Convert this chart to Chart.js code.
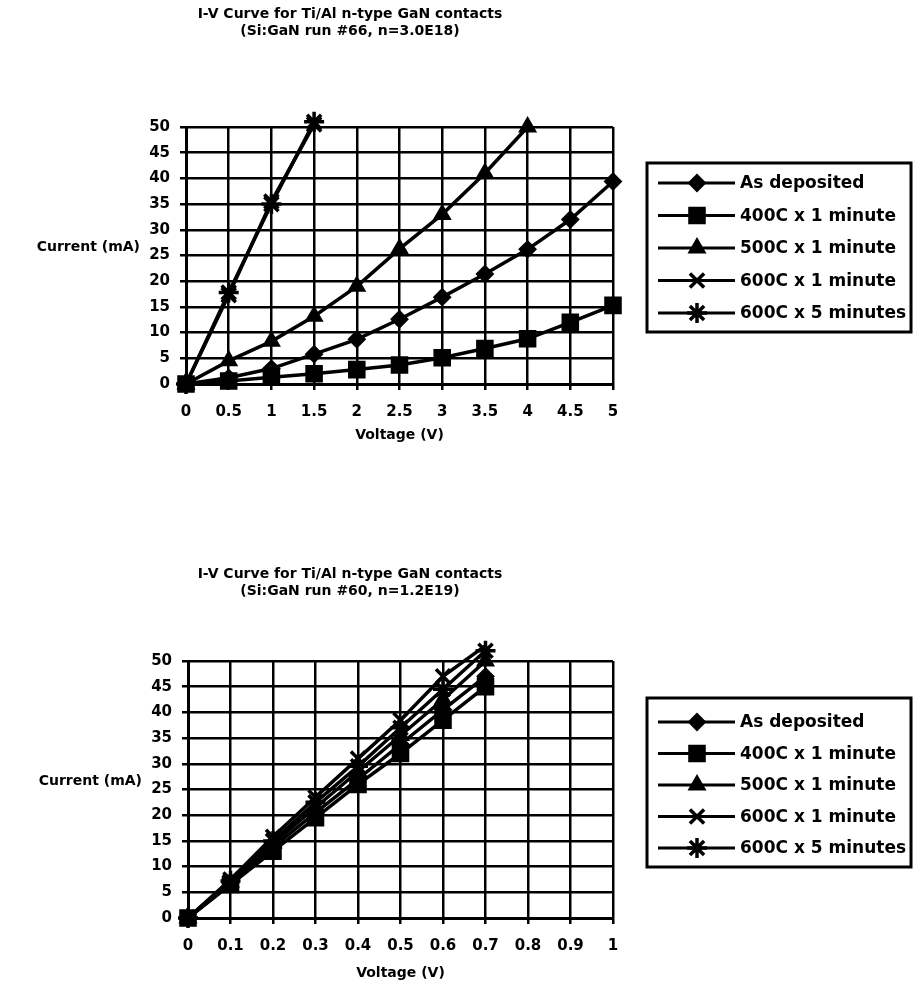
<!DOCTYPE html>
<html>
<head>
<meta charset="utf-8">
<title>I-V Curve for Ti/Al n-type GaN contacts</title>
<script src="https://cdn.jsdelivr.net/npm/chart.js@4.4.0/dist/chart.umd.min.js"></script>
<style>
  body { margin: 0; background: #fff; }
  #wrap { position: relative; width: 916px; height: 992px; }
  #chart-66 { position: absolute; left: 0; top: 0; }
  #chart-60 { position: absolute; left: 0; top: 496px; }
</style>
</head>
<body>
<div id="wrap">
  <canvas id="chart-66" width="916" height="470"></canvas>
  <canvas id="chart-60" width="916" height="496"></canvas>
</div>
<script>
// series names, same for both runs
var seriesNames = ['As deposited', '400C x 1 minute', '500C x 1 minute', '600C x 1 minute', '600C x 5 minutes'];

// run #66 (n=3.0E18) - voltage ticks and currents in mA
var voltsRun66 = ['0', '0.5', '1', '1.5', '2', '2.5', '3', '3.5', '4', '4.5', '5'];
var asDepRun66 = [0, 1.2, 3, 5.8, 8.7, 12.6, 16.9, 21.4, 26.2, 32, 39.4];
var a400Run66 = [0, 0.6, 1.3, 2, 2.8, 3.7, 5.1, 6.9, 8.8, 12, 15.3];
var a500Run66 = [0, 4.5, 8.3, 13.2, 19, 26.3, 33, 41, 50];
var a600Run66 = [0, 17.3, 35.5, 50.5];
var a600x5Run66 = [0, 17.8, 35, 51];

// run #60 (n=1.2E19)
var voltsRun60 = ['0', '0.1', '0.2', '0.3', '0.4', '0.5', '0.6', '0.7', '0.8', '0.9', '1'];
var asDepRun60 = [0, 6.8, 13.8, 20.5, 27, 33.8, 40.5, 47];
var a400Run60 = [0, 6.5, 13, 19.5, 26, 32, 38.5, 45];
var a500Run60 = [0, 7, 14.5, 21.5, 28.5, 35.5, 42.5, 50];
var a600Run60 = [0, 7.5, 15.8, 23.5, 31, 38.5, 47, 53];
var a600x5Run60 = [0, 7.2, 15, 22.5, 29.5, 37, 44.5, 52];

var currentTicks = { min: 0, max: 50, step: 5 };

// marker look per series
var markers = [
  { style: 'rectRot', radius: 8, border: 2 },
  { style: 'rect', radius: 11, border: 2 },
  { style: 'triangle', radius: 9, border: 2 },
  { style: 'crossRot', radius: 10, border: 3.5 },
  { style: 'star', radius: 10, border: 3.5 }
];

var FONT = '"DejaVu Sans", Verdana, sans-serif';
Chart.defaults.font.family = FONT;
Chart.defaults.font.size = 14;
Chart.defaults.font.weight = 'bold';
Chart.defaults.color = '#000';

// y title written flat on the left and an Excel style legend box on the right
var sidePieces = {
  id: 'sidePieces',
  afterDraw: function(chart, args, o) {
    var ctx = chart.ctx;
    var a = chart.chartArea;
    ctx.save();
    ctx.fillStyle = '#000';
    ctx.strokeStyle = '#000';
    ctx.font = 'bold 14px ' + FONT;
    ctx.textBaseline = 'middle';
    ctx.textAlign = 'right';
    ctx.fillText(o.yTitle, a.left - 46, a.top + 120);

    var bx = a.right + 34;
    var by = a.top + o.boxTop;
    ctx.lineWidth = 3;
    ctx.strokeRect(bx, by, 264, 169);
    ctx.textAlign = 'left';
    ctx.font = 'bold 17px ' + FONT;
    chart.data.datasets.forEach(function(ds, i) {
      var y = by + o.firstRow + i * o.rowGap;
      ctx.lineWidth = 3;
      ctx.beginPath();
      ctx.moveTo(bx + 11, y);
      ctx.lineTo(bx + 88, y);
      ctx.stroke();
      ctx.lineWidth = ds.pointBorderWidth;
      Chart.helpers.drawPoint(ctx, {
        pointStyle: ds.pointStyle,
        radius: ds.pointRadius,
        rotation: 0,
        borderWidth: ds.pointBorderWidth
      }, bx + 50, y);
      ctx.fillText(ds.label, bx + 93, y + 1);
    });
    ctx.restore();
  }
};

function makeSets(values) {
  var sets = [];
  for (var i = 0; i < values.length; i++) {
    sets.push({
      label: seriesNames[i],
      data: values[i],
      borderColor: '#000',
      backgroundColor: '#000',
      borderWidth: 3.5,
      pointStyle: markers[i].style,
      pointRadius: markers[i].radius,
      pointBorderWidth: markers[i].border,
      pointBackgroundColor: '#000',
      pointBorderColor: '#000',
      tension: 0,
      clip: false
    });
  }
  return sets;
}

function printIVChart(id, cfg) {
  var ctx = document.getElementById(id).getContext('2d');
  new Chart(ctx, {
    type: 'line',
    data: {
      labels: cfg.labels,
      datasets: makeSets(cfg.values)
    },
    options: {
      responsive: false,
      animation: false,
      layout: { padding: { left: 87, right: 303, top: 0, bottom: 0 } },
      plugins: {
        legend: { display: false },
        tooltip: { enabled: false },
        title: {
          display: true,
          text: cfg.title,
          font: { size: 14, weight: 'bold' },
          padding: cfg.titlePad
        },
        sidePieces: cfg.side
      },
      scales: {
        x: {
          type: 'category',
          offset: false,
          grid: { color: '#000', lineWidth: 2.5, tickLength: 6 },
          border: { color: '#000', width: 3 },
          ticks: { padding: 13, autoSkip: false, maxRotation: 0, font: { size: 15, weight: 'bold' } },
          title: { display: true, text: 'Voltage (V)', padding: { top: 0, bottom: cfg.xTitleBottom } },
          afterFit: function(s) { s.height = cfg.xHeight; }
        },
        y: {
          min: currentTicks.min,
          max: currentTicks.max,
          grid: { color: '#000', lineWidth: 2.5, tickLength: 6 },
          border: { color: '#000', width: 3 },
          ticks: { stepSize: currentTicks.step, padding: 10, font: { size: 15, weight: 'bold' } },
          afterFit: function(s) { s.width = cfg.yWidth; }
        }
      }
    },
    plugins: [sidePieces]
  });
}

printIVChart('chart-66', {
  labels: voltsRun66,
  values: [asDepRun66, a400Run66, a500Run66, a600Run66, a600x5Run66],
  title: ['I-V Curve for Ti/Al n-type GaN contacts', '(Si:GaN run #66, n=3.0E18)'],
  titlePad: { top: 6, bottom: 87.4 },
  xHeight: 86,
  xTitleBottom: 26,
  yWidth: 99,
  side: { yTitle: 'Current (mA)', boxTop: 36, firstRow: 20, rowGap: 32.5 }
});

printIVChart('chart-60', {
  labels: voltsRun60,
  values: [asDepRun60, a400Run60, a500Run60, a600Run60, a600x5Run60],
  title: ['I-V Curve for Ti/Al n-type GaN contacts', '(Si:GaN run #60, n=1.2E19)'],
  titlePad: { top: 70, bottom: 61.4 },
  xHeight: 74,
  xTitleBottom: 10,
  yWidth: 101,
  side: { yTitle: 'Current (mA)', boxTop: 37, firstRow: 24, rowGap: 31.5 }
});
</script>
</body>
</html>
